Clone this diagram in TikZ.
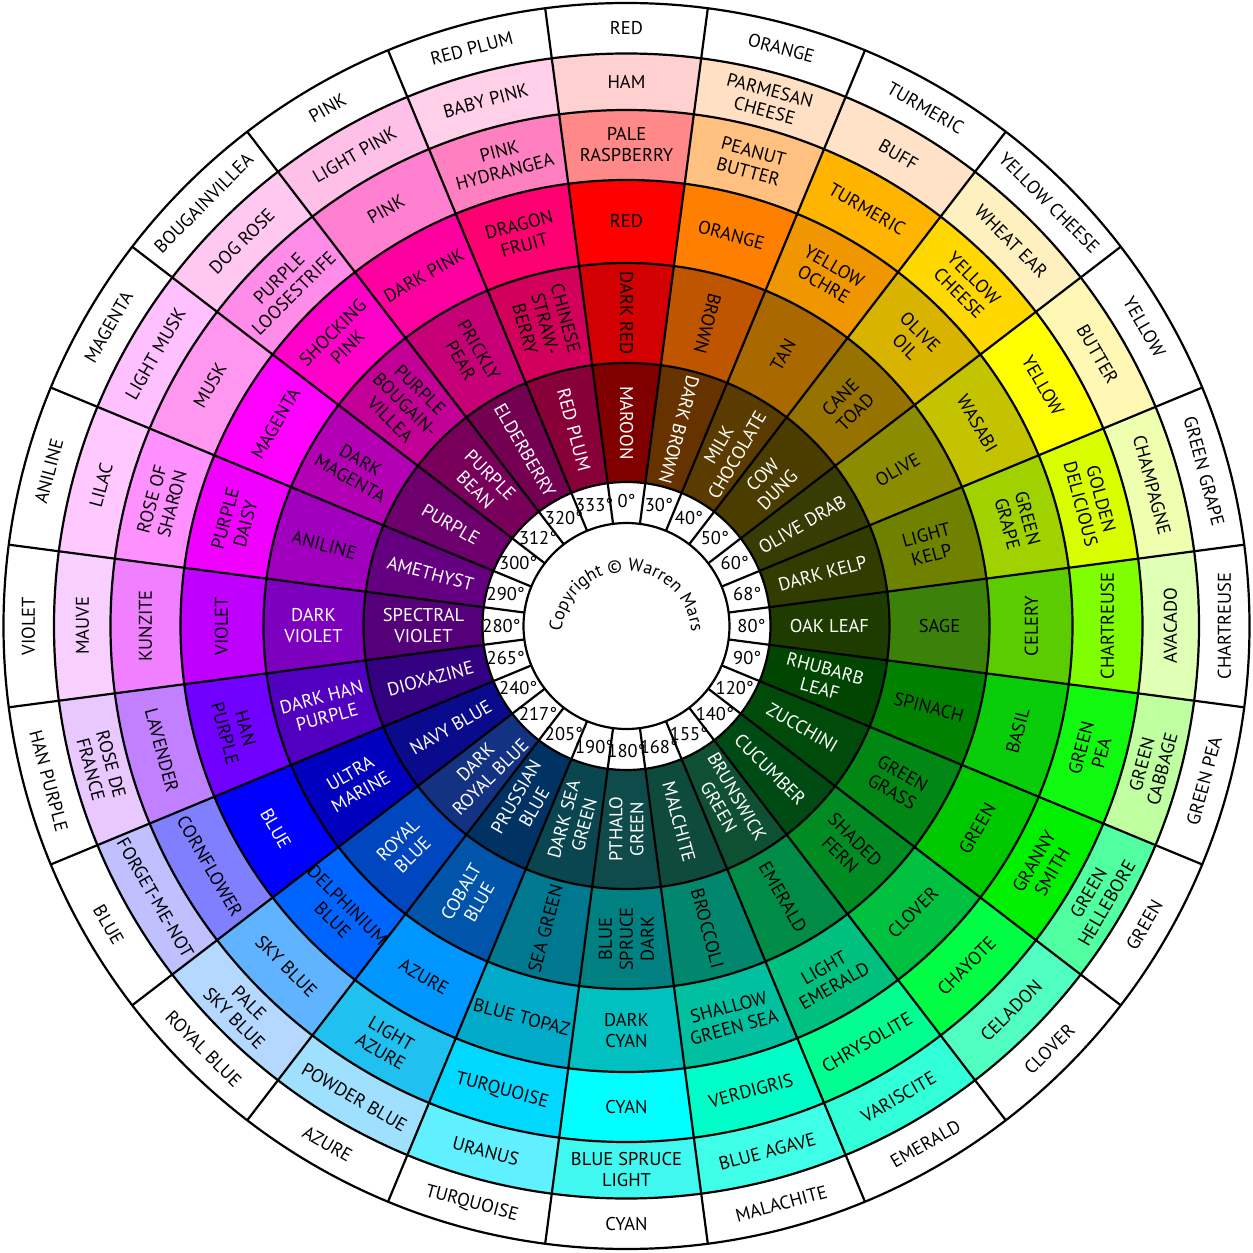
\documentclass[tikz,border=0pt]{standalone}
\usepackage{fontspec}
\setmainfont{PT Sans}
\usetikzlibrary{decorations.text}
\begin{document}
\begin{tikzpicture}[
  lbl/.style={inner sep=0pt, align=center, font=\fontsize{18.5}{21}\selectfont},
  deglbl/.style={inner sep=0pt, font=\fontsize{18.5}{21}\selectfont},
  seg/.style={line width=2.2pt, draw=black}]
\useasboundingbox (-626.5pt,-627pt) rectangle (626.5pt,626pt);

% ---------- ring fills ----------
% ring A 516 - 572.5
\foreach \k/\c in {0/FFD0D0,1/FFE0C4,2/FFE2C8,3/FFF0C0,4/FFF8B4,5/EEFFB0,6/DEFFB4,7/C0FFA0,8/50FFA0,9/50FFC0,10/30FFD8,11/40FFE8,12/40F8F0,13/60F0FF,14/A0E0FF,15/B4D8FF,16/C0C0FF,17/E8C8FF,18/F8D0FF,19/FFC8FF,20/FFC0FF,21/FFC8F0,22/FFC0E8,23/FFD0E8}{
  \pgfmathsetmacro\a{90-15*\k}
  \definecolor{segc}{HTML}{\c}
  \fill[segc] (\a+7.5:516pt) arc[start angle=\a+7.5, end angle=\a-7.5, radius=516pt] -- (\a-7.5:572.5pt) arc[start angle=\a-7.5, end angle=\a+7.5, radius=572.5pt] -- cycle;
}
% ring B 446 - 516
\foreach \k/\c in {0/FF8888,1/FFC080,2/FFB400,3/FFD800,4/FFFF00,5/D8FF00,6/80FF00,7/10FA10,8/00F000,9/00FF44,10/00FF90,11/00FFC8,12/00FFFF,13/00D8FF,14/20C0F0,15/60B4FF,16/8080FF,17/C080FF,18/F080FF,19/FF90FF,20/FF96F0,21/FF8CE8,22/FF80D0,23/FF80C0}{
  \pgfmathsetmacro\a{90-15*\k}
  \definecolor{segc}{HTML}{\c}
  \fill[segc] (\a+7.5:446pt) arc[start angle=\a+7.5, end angle=\a-7.5, radius=446pt] -- (\a-7.5:516pt) arc[start angle=\a-7.5, end angle=\a+7.5, radius=516pt] -- cycle;
}
% ring C 363 - 446
\foreach \k/\c in {0/FF0000,1/FF8000,2/F09600,3/D8B400,4/C3C300,5/A0D200,6/5ACC00,7/0ACD0A,8/00C800,9/00C040,10/00C080,11/00C0A0,12/00C0C0,13/00AAC8,14/0096FF,15/0064FF,16/0000FF,17/7000FF,18/C000FF,19/F000FF,20/FF00FF,21/FF00C8,22/FF00A0,23/FF0070}{
  \pgfmathsetmacro\a{90-15*\k}
  \definecolor{segc}{HTML}{\c}
  \fill[segc] (\a+7.5:363pt) arc[start angle=\a+7.5, end angle=\a-7.5, radius=363pt] -- (\a-7.5:446pt) arc[start angle=\a-7.5, end angle=\a+7.5, radius=446pt] -- cycle;
}
% ring D 263 - 363
\foreach \k/\c in {0/D20000,1/C05500,2/AA6900,3/967300,4/8C8C00,5/6E8200,6/3C820A,7/008200,8/008714,9/008C23,10/008C46,11/00876E,12/008080,13/007890,14/0055AA,15/0046BE,16/0000BE,17/5000BE,18/7D00BE,19/A000BE,20/B400B4,21/C30096,22/C80078,23/D2005A}{
  \pgfmathsetmacro\a{90-15*\k}
  \definecolor{segc}{HTML}{\c}
  \fill[segc] (\a+7.5:263pt) arc[start angle=\a+7.5, end angle=\a-7.5, radius=263pt] -- (\a-7.5:363pt) arc[start angle=\a-7.5, end angle=\a+7.5, radius=363pt] -- cycle;
}
% ring E 144 - 263
\foreach \k/\c in {0/800000,1/663300,2/5A3C00,3/4B3C00,4/373C05,5/323C00,6/1E3C00,7/004600,8/004B0A,9/004B14,10/0F5032,11/0F4B3C,12/0F4B4B,13/0A4650,14/003264,15/143282,16/0A0A8C,17/320080,18/550078,19/640080,20/6E006E,21/78005A,22/730050,23/870037}{
  \pgfmathsetmacro\a{90-15*\k}
  \definecolor{segc}{HTML}{\c}
  \fill[segc] (\a+7.5:144pt) arc[start angle=\a+7.5, end angle=\a-7.5, radius=144pt] -- (\a-7.5:263pt) arc[start angle=\a-7.5, end angle=\a+7.5, radius=263pt] -- cycle;
}

% ---------- lines ----------
\foreach \k in {0,...,23}{
  \draw[seg] (97.5-15*\k:103pt) -- (97.5-15*\k:623pt);
}
\foreach \r in {103,144,263,363,446,516,572.5,623}{
  \draw[seg] (0,0) circle[radius=\r pt];
}

% ---------- labels ----------
% outer white ring
\foreach \k/\t in {0/RED,1/ORANGE,2/TURMERIC,3/YELLOW CHEESE,4/YELLOW,5/GREEN GRAPE,6/CHARTREUSE,7/GREEN PEA,8/GREEN,9/CLOVER,10/EMERALD,11/MALACHITE,12/CYAN,13/TURQUOISE,14/AZURE,15/ROYAL BLUE,16/BLUE,17/HAN PURPLE,18/VIOLET,19/ANILINE,20/MAGENTA,21/BOUGAINVILLEA,22/PINK,23/RED PLUM}{
  \pgfmathsetmacro\a{90-15*\k}
  \pgfmathsetmacro\rot{ifthenelse(or(\k<6,\k>17),-15*\k,180-15*\k)}
  \node[lbl, rotate=\rot] (w\k) at (\a:598pt) {\t};
}
% ring A
\foreach \k/\t in {0/HAM,1/{PARMESAN\\CHEESE},2/BUFF,3/WHEAT EAR,4/BUTTER,5/CHAMPAGNE,6/AVACADO,7/{GREEN\\CABBAGE},8/{GREEN\\HELLEBORE},9/CELADON,10/VARISCITE,11/BLUE AGAVE,12/{BLUE SPRUCE\\LIGHT},13/URANUS,14/POWDER BLUE,15/{PALE\\SKY BLUE},16/FORGET-ME-NOT,17/{ROSE DE\\FRANCE},18/MAUVE,19/LILAC,20/LIGHT MUSK,21/DOG ROSE,22/LIGHT PINK,23/BABY PINK}{
  \pgfmathsetmacro\a{90-15*\k}
  \pgfmathsetmacro\rot{ifthenelse(or(\k<6,\k>17),-15*\k,180-15*\k)}
  \node[lbl, rotate=\rot] (a\k) at (\a:544pt) {\t};
}
% ring B
\foreach \k/\t in {0/{PALE\\RASPBERRY},1/{PEANUT\\BUTTER},2/TURMERIC,3/{YELLOW\\CHEESE},4/YELLOW,5/{GOLDEN\\DELICIOUS},6/CHARTREUSE,7/{GREEN\\PEA},8/{GRANNY\\SMITH},9/CHAYOTE,10/CHRYSOLITE,11/VERDIGRIS,12/CYAN,13/TURQUOISE,14/{LIGHT\\AZURE},15/SKY BLUE,16/CORNFLOWER,17/LAVENDER,18/KUNZITE,19/{ROSE OF\\SHARON},20/MUSK,21/{PURPLE\\LOOSESTRIFE},22/PINK,23/{PINK\\HYDRANGEA}}{
  \pgfmathsetmacro\a{90-15*\k}
  \pgfmathsetmacro\rot{ifthenelse(or(\k<6,\k>17),-15*\k,180-15*\k)}
  \node[lbl, rotate=\rot] (b\k) at (\a:481pt) {\t};
}
% ring C
\foreach \k/\t/\tc in {0/RED/black,1/ORANGE/black,2/{YELLOW\\OCHRE}/black,3/{OLIVE\\OIL}/black,4/WASABI/black,5/{GREEN\\GRAPE}/black,6/CELERY/black,7/BASIL/black,8/GREEN/black,9/CLOVER/black,10/{LIGHT\\EMERALD}/black,11/{SHALLOW\\GREEN SEA}/black,12/{DARK\\CYAN}/black,13/BLUE TOPAZ/black,14/AZURE/black,15/{DELPHINIUM\\BLUE}/black,16/BLUE/white,17/{HAN\\PURPLE}/black,18/VIOLET/black,19/{PURPLE\\DAISY}/black,20/MAGENTA/black,21/{SHOCKING\\PINK}/black,22/DARK PINK/black,23/{DRAGON\\FRUIT}/black}{
  \pgfmathsetmacro\a{90-15*\k}
  \pgfmathsetmacro\rot{ifthenelse(or(\k<6,\k>17),-15*\k,180-15*\k)}
  \node[lbl, text=\tc, rotate=\rot] (c\k) at (\a:405pt) {\t};
}
% ring D
\foreach \k/\t/\tc in {0/DARK RED/black,1/BROWN/black,2/TAN/black,3/{CANE\\TOAD}/black,4/OLIVE/black,5/{LIGHT\\KELP}/black,6/SAGE/black,7/SPINACH/black,8/{GREEN\\GRASS}/black,9/{SHADED\\FERN}/black,10/EMERALD/black,11/BROCCOLI/black,12/{BLUE\\SPRUCE\\DARK}/black,13/SEA GREEN/black,14/{COBALT\\BLUE}/white,15/{ROYAL\\BLUE}/white,16/{ULTRA\\MARINE}/white,17/{DARK HAN\\PURPLE}/white,18/{DARK\\VIOLET}/white,19/ANILINE/black,20/{DARK\\MAGENTA}/black,21/{PURPLE\\BOUGAIN-\\VILLEA}/black,22/{PRICKLY\\PEAR}/black,23/{CHINESE\\STRAW-\\BERRY}/black}{
  \pgfmathsetmacro\a{90-15*\k}
  \pgfmathsetmacro\rot{ifthenelse(and(\k>1,\k<12),90-15*\k,270-15*\k)}
  \node[lbl, text=\tc, rotate=\rot] (d\k) at (\a:313pt) {\t};
}
% ring E
\foreach \k/\t in {0/MAROON,1/DARK BROWN,2/{MILK\\CHOCOLATE},3/{COW\\DUNG},4/OLIVE DRAB,5/DARK KELP,6/OAK LEAF,7/{RHUBARB\\LEAF},8/ZUCCHINI,9/CUCUMBER,10/{BRUNSWICK\\GREEN},11/MALCHITE,12/{PTHALO\\GREEN},13/{DARK SEA\\GREEN},14/{PRUSSIAN\\BLUE},15/{DARK\\ROYAL BLUE},16/NAVY BLUE,17/DIOXAZINE,18/{SPECTRAL\\VIOLET},19/AMETHYST,20/PURPLE,21/{PURPLE\\BEAN},22/ELDERBERRY,23/RED PLUM}{
  \pgfmathsetmacro\a{90-15*\k}
  \pgfmathsetmacro\rot{ifthenelse(and(\k>1,\k<12),90-15*\k,270-15*\k)}
  \node[lbl, text=white, rotate=\rot] (e\k) at (\a:203pt) {\t};
}
% degree ring
\foreach \k/\t in {0/0,1/30,2/40,3/50,4/60,5/68,6/80,7/90,8/120,9/140,10/155,11/168,12/180,13/190,14/205,15/217,16/240,17/265,18/280,19/290,20/300,21/312,22/320,23/333}{
  \pgfmathsetmacro\a{90-15*\k}
  \node[deglbl] (deg\k) at (\a:125pt) {\t°};
}
% copyright
\path[decorate, decoration={text along path, text align=center,
  text={|\fontsize{18}{18}\selectfont|Copyright © Warren Mars}}]
  (-65pt,-10pt) arc[start angle=180, end angle=0, radius=65pt];
\end{tikzpicture}
\end{document}
